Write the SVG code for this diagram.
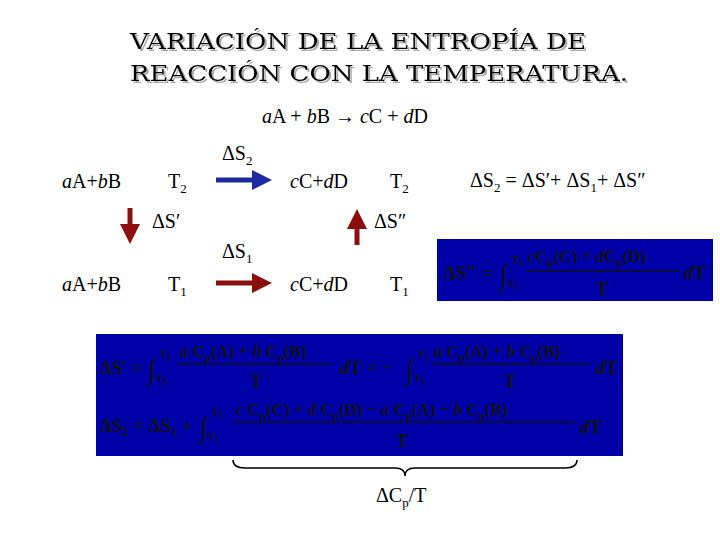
<svg xmlns="http://www.w3.org/2000/svg" width="720" height="540" viewBox="0 0 720 540" font-family="'Liberation Serif', 'DejaVu Serif', serif">
<defs>
<marker id="mb" markerWidth="4" markerHeight="4" refX="2" refY="2" orient="auto"><path d="M0,0L4,2L0,4z" fill="#1f2aa0"/></marker>
<marker id="mr" markerWidth="4" markerHeight="4" refX="2" refY="2" orient="auto"><path d="M0,0L4,2L0,4z" fill="#8b0f0f"/></marker>
<filter id="sh"><feDropShadow dx="2" dy="2" stdDeviation="0" flood-color="#aaa"/></filter>
</defs>
<rect width="720" height="540" fill="#fff"/>
<g id="title" font-size="22" font-family="'DejaVu Serif', serif" filter="url(#sh)">
<text x="130" y="49" fill="#000" textLength="456" lengthAdjust="spacingAndGlyphs">VARIACIÓN DE LA ENTROPÍA DE</text>
<text x="130" y="81" fill="#000" textLength="498" lengthAdjust="spacingAndGlyphs">REACCIÓN CON LA TEMPERATURA.</text>
</g>
<text font-size="20" x="262" y="123"><tspan font-style="italic">a</tspan>A + <tspan font-style="italic">b</tspan>B → <tspan font-style="italic">c</tspan>C + <tspan font-style="italic">d</tspan>D</text>
<g id="n1" font-size="20"><text x="62" y="188"><tspan font-style="italic">a</tspan>A+<tspan font-style="italic">b</tspan>B</text><text x="168" y="188">T<tspan font-size="13" dy="5">2</tspan></text></g>
<g id="n2" font-size="20"><text x="290" y="188"><tspan font-style="italic">c</tspan>C+<tspan font-style="italic">d</tspan>D</text><text x="390" y="188">T<tspan font-size="13" dy="5">2</tspan></text></g>
<g id="n3" font-size="20"><text x="62" y="291"><tspan font-style="italic">a</tspan>A+<tspan font-style="italic">b</tspan>B</text><text x="168" y="291">T<tspan font-size="13" dy="5">1</tspan></text></g>
<g id="n4" font-size="20"><text x="290" y="291"><tspan font-style="italic">c</tspan>C+<tspan font-style="italic">d</tspan>D</text><text x="390" y="291">T<tspan font-size="13" dy="5">1</tspan></text></g>
<g id="connectors" stroke-width="5" fill="none">
<line x1="216" y1="180" x2="262" y2="180" stroke="#1f2aa0" marker-end="url(#mb)"/>
<line x1="216" y1="283" x2="262" y2="283" stroke="#8b0f0f" marker-end="url(#mr)"/>
<line x1="130" y1="208" x2="130" y2="234" stroke="#8b0f0f" marker-end="url(#mr)"/>
<line x1="357" y1="245" x2="357" y2="219" stroke="#8b0f0f" marker-end="url(#mr)"/>
</g>
<g id="labels" font-size="20">
<text x="222" y="160">ΔS<tspan font-size="13" dy="5">2</tspan></text>
<text x="222" y="258">ΔS<tspan font-size="13" dy="5">1</tspan></text>
<text x="152" y="228">ΔS′</text>
<text x="374" y="228">ΔS″</text>
<text x="470" y="187">ΔS<tspan font-size="13" dy="5">2</tspan><tspan dy="-5"> = ΔS′+ ΔS</tspan><tspan font-size="13" dy="5">1</tspan><tspan dy="-5">+ ΔS″</tspan></text>
</g>
<g id="eq1" font-weight="bold" fill="#111" font-size="19">
<rect x="437" y="239" width="276" height="62" fill="#0000a8"/>
<text x="444" y="279">ΔS″ =</text>
<text x="500" y="284" font-size="28" font-weight="normal">∫</text>
<text x="512" y="263" font-size="11">T<tspan dy="3" font-size="8">2</tspan></text><text x="508" y="287" font-size="11">T<tspan dy="3" font-size="8">1</tspan></text>
<text x="528" y="262" font-size="17"><tspan font-style="italic">c</tspan>C<tspan font-size="11" dy="4">p</tspan><tspan dy="-4">(C) + </tspan><tspan font-style="italic">d</tspan>C<tspan font-size="11" dy="4">p</tspan><tspan dy="-4">(D)</tspan></text>
<line x1="526" y1="271" x2="680" y2="271" stroke="#111" stroke-width="1.5"/>
<text x="596" y="295">T</text>
<text x="684" y="279"><tspan font-style="italic">d</tspan>T</text>
</g>
<g id="eq2" font-weight="bold" fill="#111" font-size="19">
<rect x="96" y="334" width="527" height="122" fill="#0000a8"/>
<text x="100" y="374">ΔS′ =</text>
<text x="148" y="379" font-size="28" font-weight="normal">∫</text>
<text x="160" y="358" font-size="11">T<tspan dy="3" font-size="8">1</tspan></text><text x="156" y="382" font-size="11">T<tspan dy="3" font-size="8">2</tspan></text>
<text x="180" y="357" font-size="17"><tspan font-style="italic">a</tspan> C<tspan font-size="11" dy="4">p</tspan><tspan dy="-4">(A) + </tspan><tspan font-style="italic">b</tspan> C<tspan font-size="11" dy="4">p</tspan><tspan dy="-4">(B)</tspan></text>
<line x1="178" y1="364" x2="333" y2="364" stroke="#111" stroke-width="1.5"/>
<text x="250" y="388">T</text>
<text x="340" y="374"><tspan font-style="italic">d</tspan>T = −</text>
<text x="406" y="379" font-size="28" font-weight="normal">∫</text>
<text x="418" y="358" font-size="11">T<tspan dy="3" font-size="8">2</tspan></text><text x="414" y="382" font-size="11">T<tspan dy="3" font-size="8">1</tspan></text>
<text x="434" y="357" font-size="17"><tspan font-style="italic">a</tspan> C<tspan font-size="11" dy="4">p</tspan><tspan dy="-4">(A) + </tspan><tspan font-style="italic">b</tspan> C<tspan font-size="11" dy="4">p</tspan><tspan dy="-4">(B)</tspan></text>
<line x1="432" y1="364" x2="590" y2="364" stroke="#111" stroke-width="1.5"/>
<text x="504" y="388">T</text>
<text x="596" y="374"><tspan font-style="italic">d</tspan>T</text>
<text x="100" y="432">ΔS<tspan font-size="12" dy="4">2</tspan><tspan dy="-4"> = ΔS</tspan><tspan font-size="12" dy="4">1</tspan><tspan dy="-4"> +</tspan></text>
<text x="200" y="437" font-size="28" font-weight="normal">∫</text>
<text x="212" y="416" font-size="11">T<tspan dy="3" font-size="8">2</tspan></text><text x="208" y="440" font-size="11">T<tspan dy="3" font-size="8">1</tspan></text>
<text x="236" y="415" font-size="17"><tspan font-style="italic">c</tspan> C<tspan font-size="11" dy="4">p</tspan><tspan dy="-4">(C) + </tspan><tspan font-style="italic">d</tspan> C<tspan font-size="11" dy="4">p</tspan><tspan dy="-4">(D) − </tspan><tspan font-style="italic">a</tspan> C<tspan font-size="11" dy="4">p</tspan><tspan dy="-4">(A) − </tspan><tspan font-style="italic">b</tspan> C<tspan font-size="11" dy="4">p</tspan><tspan dy="-4">(B)</tspan></text>
<line x1="234" y1="422" x2="574" y2="422" stroke="#111" stroke-width="1.5"/>
<text x="396" y="447">T</text>
<text x="580" y="433"><tspan font-style="italic">d</tspan>T</text>
</g>
<g id="brace">
<path d="M233,460 Q233,468 245,468 L395,468 Q405,468 405,476 Q405,468 415,468 L565,468 Q577,468 577,460" fill="none" stroke="#000" stroke-width="1.5"/>
<text font-size="20" x="376" y="502">ΔC<tspan font-size="13" dy="5">p</tspan><tspan dy="-5">/T</tspan></text>
</g>
</svg>
